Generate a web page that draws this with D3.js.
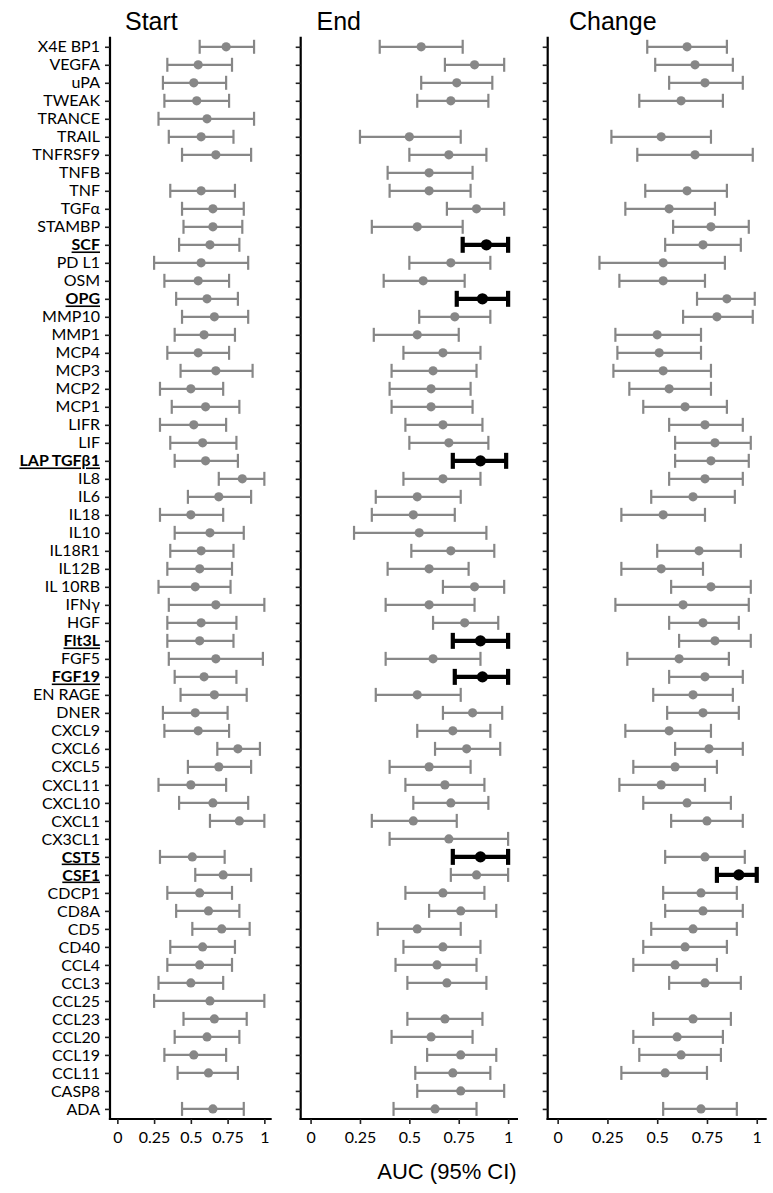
<!DOCTYPE html>
<html>
<head>
<meta charset="utf-8">
<script src="https://cdn.jsdelivr.net/npm/d3@7"></script>
<style>
  html, body { margin: 0; padding: 0; background: #fff; }
  svg { display: block; }
</style>
</head>
<body>
<svg id="chart" width="773" height="1193"></svg>
<script>
const categories = ["X4E BP1","VEGFA","uPA","TWEAK","TRANCE","TRAIL","TNFRSF9","TNFB","TNF","TGFα",
  "STAMBP","SCF","PD L1","OSM","OPG","MMP10","MMP1","MCP4","MCP3","MCP2",
  "MCP1","LIFR","LIF","LAP TGFβ1","IL8","IL6","IL18","IL10","IL18R1","IL12B",
  "IL 10RB","IFNγ","HGF","Flt3L","FGF5","FGF19","EN RAGE","DNER","CXCL9","CXCL6",
  "CXCL5","CXCL11","CXCL10","CXCL1","CX3CL1","CST5","CSF1","CDCP1","CD8A","CD5",
  "CD40","CCL4","CCL3","CCL25","CCL23","CCL20","CCL19","CCL11","CASP8","ADA"];

const startAUC  = [0.74,0.55,0.52,0.54,0.61,0.57,0.67,null,0.57,0.65, 0.65,0.63,0.57,0.55,0.61,0.66,0.59,0.55,0.67,0.50, 0.60,0.52,0.58,0.60,0.85,0.69,0.50,0.63,0.57,0.56, 0.53,0.67,0.57,0.56,0.67,0.59,0.66,0.53,0.55,0.82, 0.69,0.50,0.65,0.83,null,0.51,0.72,0.56,0.62,0.71, 0.58,0.56,0.50,0.63,0.66,0.61,0.52,0.62,null,0.65];
const startLow  = [0.56,0.34,0.31,0.32,0.28,0.35,0.44,null,0.36,0.44, 0.45,0.42,0.25,0.32,0.40,0.44,0.39,0.34,0.43,0.29, 0.37,0.29,0.36,0.39,0.69,0.48,0.29,0.39,0.36,0.34, 0.28,0.35,0.34,0.34,0.35,0.39,0.43,0.31,0.32,0.68, 0.48,0.28,0.42,0.63,null,0.29,0.53,0.34,0.40,0.51, 0.36,0.34,0.28,0.25,0.45,0.39,0.32,0.41,null,0.44];
const startHigh = [0.93,0.78,0.74,0.76,0.93,0.79,0.91,null,0.80,0.86, 0.85,0.83,0.89,0.76,0.82,0.89,0.80,0.76,0.92,0.72, 0.83,0.74,0.81,0.82,1.00,0.91,0.72,0.86,0.79,0.78, 0.77,1.00,0.81,0.79,0.99,0.81,0.88,0.75,0.76,0.97, 0.91,0.74,0.89,1.00,null,0.73,0.91,0.78,0.83,0.90, 0.80,0.78,0.72,1.00,0.88,0.83,0.74,0.82,null,0.86];

const endAUC  = [0.56,0.83,0.74,0.71,null,0.50,0.70,0.60,0.60,0.84, 0.54,0.89,0.71,0.57,0.87,0.73,0.54,0.67,0.62,0.61, 0.61,0.67,0.70,0.86,0.67,0.54,0.52,0.55,0.71,0.60, 0.83,0.60,0.78,0.86,0.62,0.87,0.54,0.82,0.72,0.79, 0.60,0.68,0.71,0.52,0.70,0.86,0.84,0.67,0.76,0.54, 0.67,0.64,0.69,null,0.68,0.61,0.76,0.72,0.76,0.63];
const endLow  = [0.35,0.68,0.56,0.54,null,0.25,0.50,0.39,0.40,0.69, 0.31,0.77,0.50,0.37,0.74,0.55,0.32,0.47,0.41,0.40, 0.41,0.48,0.50,0.72,0.47,0.33,0.31,0.22,0.51,0.39, 0.67,0.38,0.62,0.72,0.38,0.73,0.33,0.67,0.54,0.63, 0.40,0.48,0.52,0.31,0.40,0.72,0.71,0.48,0.60,0.34, 0.47,0.43,0.49,null,0.49,0.41,0.59,0.53,0.54,0.42];
const endHigh = [0.77,0.98,0.92,0.90,null,0.76,0.89,0.82,0.81,0.98, 0.77,1.00,0.91,0.78,1.00,0.91,0.75,0.86,0.84,0.81, 0.82,0.87,0.90,0.99,0.86,0.76,0.73,0.89,0.93,0.80, 0.98,0.83,0.95,1.00,0.86,1.00,0.76,0.97,0.91,0.96, 0.81,0.88,0.90,0.74,1.00,1.00,1.00,0.88,0.94,0.76, 0.86,0.84,0.89,null,0.87,0.82,0.94,0.91,0.98,0.84];

const changeAUC  = [0.65,0.69,0.74,0.62,null,0.52,0.69,null,0.65,0.56, 0.77,0.73,0.53,0.53,0.85,0.80,0.50,0.51,0.53,0.56, 0.64,0.74,0.79,0.77,0.74,0.68,0.53,null,0.71,0.52, 0.77,0.63,0.73,0.79,0.61,0.74,0.68,0.73,0.56,0.76, 0.59,0.52,0.65,0.75,null,0.74,0.91,0.72,0.73,0.68, 0.64,0.59,0.74,null,0.68,0.60,0.62,0.54,null,0.72];
const changeLow  = [0.45,0.49,0.56,0.41,null,0.27,0.40,null,0.44,0.34, 0.58,0.54,0.21,0.31,0.70,0.63,0.29,0.30,0.28,0.36, 0.43,0.56,0.59,0.59,0.56,0.47,0.32,null,0.50,0.32, 0.57,0.29,0.56,0.61,0.35,0.56,0.48,0.55,0.34,0.59, 0.38,0.31,0.43,0.57,null,0.54,0.80,0.53,0.54,0.47, 0.43,0.38,0.56,null,0.48,0.38,0.41,0.32,null,0.53];
const changeHigh = [0.85,0.88,0.93,0.83,null,0.77,0.98,null,0.85,0.79, 0.96,0.92,0.84,0.74,0.99,0.98,0.72,0.72,0.77,0.77, 0.85,0.93,0.97,0.96,0.93,0.89,0.74,null,0.92,0.73, 0.97,0.96,0.91,0.97,0.86,0.93,0.88,0.91,0.77,0.93, 0.80,0.74,0.87,0.93,null,0.94,1.00,0.90,0.93,0.90, 0.85,0.80,0.92,null,0.87,0.83,0.82,0.75,null,0.90];

const highlightEnd = ["SCF","OPG","LAP TGFβ1","Flt3L","FGF19","CST5"];
const highlightChange = ["CSF1"];
const boldLabels = ["SCF","OPG","LAP TGFβ1","Flt3L","FGF19","CST5","CSF1"];

const panelTitles = ["Start","End","Change"];
const xTicks = [0, 0.25, 0.5, 0.75, 1];
const xTickLabels = ["0","0.25","0.5","0.75","1"];
const xAxisTitle = "AUC (95% CI)";

// ---------- layout ----------
const svg = d3.select("#chart");
const yTop = 36.7, yBottom = 1119;
const panels = [
  {title: panelTitles[0], left: 110,   right: 271.7, titleX: 125,   auc: startAUC,  lo: startLow,  hi: startHigh,  hl: [],               labels: true},
  {title: panelTitles[1], left: 300.7, right: 518,   titleX: 316.5, auc: endAUC,    lo: endLow,    hi: endHigh,    hl: highlightEnd,    labels: false},
  {title: panelTitles[2], left: 547.7, right: 766.7, titleX: 569,   auc: changeAUC, lo: changeLow, hi: changeHigh, hl: highlightChange, labels: false}
];

const y = d3.scalePoint().domain(categories).range([yTop, yBottom]).padding(0.56);
const GREY = "#878787";
const labelFont = "Lato, 'Open Sans', sans-serif";

panels.forEach(p => {
  const x = d3.scaleLinear().domain([-0.05, 1.05]).range([p.left, p.right]);
  const g = svg.append("g");

  // title
  svg.append("text")
    .attr("x", p.titleX).attr("y", 29.5)
    .attr("font-family", "'Liberation Sans', Arial, sans-serif")
    .attr("font-size", 25)
    .attr("fill", "#000")
    .text(p.title);

  // y axis
  const yAxis = d3.axisLeft(y).tickSize(5).tickSizeOuter(0).tickPadding(5);
  if (!p.labels) yAxis.tickFormat("");
  const ya = g.append("g").attr("transform", `translate(${p.left},0)`).call(yAxis);
  ya.select(".domain").attr("stroke", "#000").attr("stroke-width", 2.2)
    .attr("d", `M0,${yTop}V${yBottom + 1.1}`);
  ya.selectAll(".tick line").attr("stroke", "#222").attr("stroke-width", 1.6);
  ya.selectAll(".tick text")
    .attr("font-family", labelFont)
    .attr("font-size", 16)
    .attr("fill", "#000")
    .attr("font-weight", d => boldLabels.includes(d) ? 700 : 400)
    .style("text-decoration", d => boldLabels.includes(d) ? "underline" : "none");

  // x axis
  const xAxis = d3.axisBottom(x).tickValues(xTicks)
    .tickFormat((d, i) => xTickLabels[i]).tickSize(5).tickSizeOuter(0).tickPadding(8);
  const xa = g.append("g").attr("transform", `translate(0,${yBottom})`).call(xAxis);
  xa.select(".domain").attr("stroke", "#000").attr("stroke-width", 2.2)
    .attr("d", `M${p.left - 1.1},0H${p.right}`);
  xa.selectAll(".tick line").attr("stroke", "#222").attr("stroke-width", 1.6);
  xa.selectAll(".tick text")
    .attr("font-family", labelFont)
    .attr("font-size", 16)
    .attr("fill", "#000");

  // data
  const rows = categories.map((c, i) => ({c, v: p.auc[i], lo: p.lo[i], hi: p.hi[i], hl: p.hl.includes(c)}))
    .filter(d => d.v != null);
  const m = g.append("g");
  const bars = m.selectAll("g.bar").data(rows).join("g").attr("class", "bar");
  bars.append("line")
    .attr("x1", d => x(d.lo)).attr("x2", d => x(d.hi))
    .attr("y1", d => y(d.c)).attr("y2", d => y(d.c))
    .attr("stroke", d => d.hl ? "#000" : GREY)
    .attr("stroke-width", d => d.hl ? 4.2 : 2.2);
  ["lo", "hi"].forEach(k => {
    bars.append("line")
      .attr("x1", d => x(d[k])).attr("x2", d => x(d[k]))
      .attr("y1", d => y(d.c) - (d.hl ? 8 : 7)).attr("y2", d => y(d.c) + (d.hl ? 8 : 7))
      .attr("stroke", d => d.hl ? "#000" : GREY)
      .attr("stroke-width", d => d.hl ? 4.2 : 2.2);
  });
  bars.append("circle")
    .attr("cx", d => x(d.v)).attr("cy", d => y(d.c))
    .attr("r", d => d.hl ? 5.6 : 4.6)
    .attr("fill", d => d.hl ? "#000" : GREY);
});

// x axis title
svg.append("text")
  .attr("x", 447).attr("y", 1179)
  .attr("text-anchor", "middle")
  .attr("font-family", "'Liberation Sans', Arial, sans-serif")
  .attr("font-size", 22)
  .attr("fill", "#000")
  .text(xAxisTitle);
</script>
</body>
</html>
